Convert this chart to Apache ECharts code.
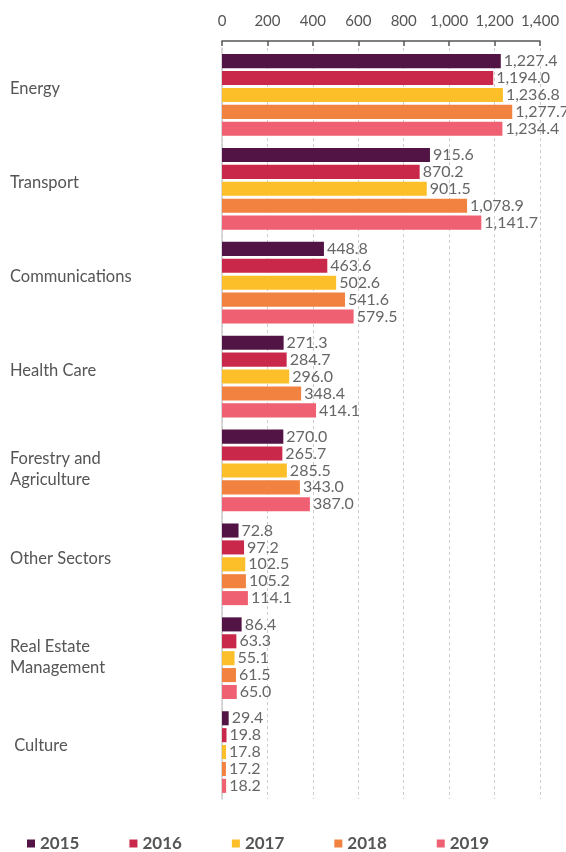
<!DOCTYPE html>
<html>
<head>
<meta charset="utf-8">
<script src="https://cdn.jsdelivr.net/npm/echarts@6/dist/echarts.min.js"></script>
<style>html,body{margin:0;padding:0;background:#fff}#c{width:566px;height:852px}</style>
</head>
<body>
<div id="c"></div>
<script>
const categories = ["Energy", "Transport", "Communications", "Health Care", "Forestry and\nAgriculture", "Other Sectors", "Real Estate\nManagement", " Culture"];
const years = ["2015", "2016", "2017", "2018", "2019"];
const colors = ["#521445", "#c9284a", "#fcbf29", "#f2823f", "#ef6172"];
const v2015 = [1227.4, 915.6, 448.8, 271.3, 270.0, 72.8, 86.4, 29.4];
const v2016 = [1194.0, 870.2, 463.6, 284.7, 265.7, 97.2, 63.3, 19.8];
const v2017 = [1236.8, 901.5, 502.6, 296.0, 285.5, 102.5, 55.1, 17.8];
const v2018 = [1277.7, 1078.9, 541.6, 348.4, 343.0, 105.2, 61.5, 17.2];
const v2019 = [1234.4, 1141.7, 579.5, 414.1, 387.0, 114.1, 65.0, 18.2];
const seriesValues = [v2015, v2016, v2017, v2018, v2019];

const FONT = 'Lato';
const chart = echarts.init(document.getElementById('c'));
chart.setOption({
  animation: false,
  textStyle: { fontFamily: FONT },
  grid: { left: 222, right: 26, top: 48, bottom: 53, containLabel: false },
  legend: {
    top: 830, left: 22, itemWidth: 8, itemHeight: 8, icon: 'rect', itemGap: 50,
    textStyle: { fontFamily: FONT, fontWeight: 'bold', fontSize: 17, color: '#555' },
    data: years
  },
  xAxis: {
    type: 'value', position: 'top', min: 0, max: 1400, interval: 200, offset: 7,
    axisLine: { show: true, lineStyle: { color: '#555', width: 1.5 } },
    axisTick: { show: true, inside: true, length: 5, lineStyle: { color: '#555', width: 1.5 } },
    axisLabel: { color: '#555', fontSize: 15, margin: 12, fontFamily: FONT,
      formatter: v => v.toLocaleString('en-US') },
    splitLine: { show: true, lineStyle: { color: '#ccc', type: [3, 3] } }
  },
  yAxis: {
    type: 'category', inverse: true, data: categories,
    axisLine: { show: true, lineStyle: { color: '#ccc', width: 1.5 } },
    axisTick: { show: false },
    axisLabel: { align: 'left', margin: 212, color: '#555', fontSize: 16.5, fontFamily: FONT,
      lineHeight: 21,
      formatter: v => v.indexOf('\n') >= 0 ? '{m|' + v.split('\n').join('}\n{m|') + '}' : '{s|' + v + '}',
      rich: {
        s: { fontSize: 16.5, color: '#555', fontFamily: FONT, lineHeight: 21, padding: [0, 0, 12, 0] },
        m: { fontSize: 16.5, color: '#555', fontFamily: FONT, lineHeight: 21, padding: [0, 0, 2, 0] }
      } }
  },
  series: years.map((y, i) => ({
    name: y, type: 'bar', data: seriesValues[i],
    itemStyle: { color: colors[i] },
    barCategoryGap: '13%', barGap: '20%',
    label: { show: true, position: 'right', distance: 3, color: '#666', fontSize: 16, fontFamily: FONT,
      formatter: p => p.value.toLocaleString('en-US', { minimumFractionDigits: 1, maximumFractionDigits: 1 }) }
  }))
});
</script>
</body>
</html>
